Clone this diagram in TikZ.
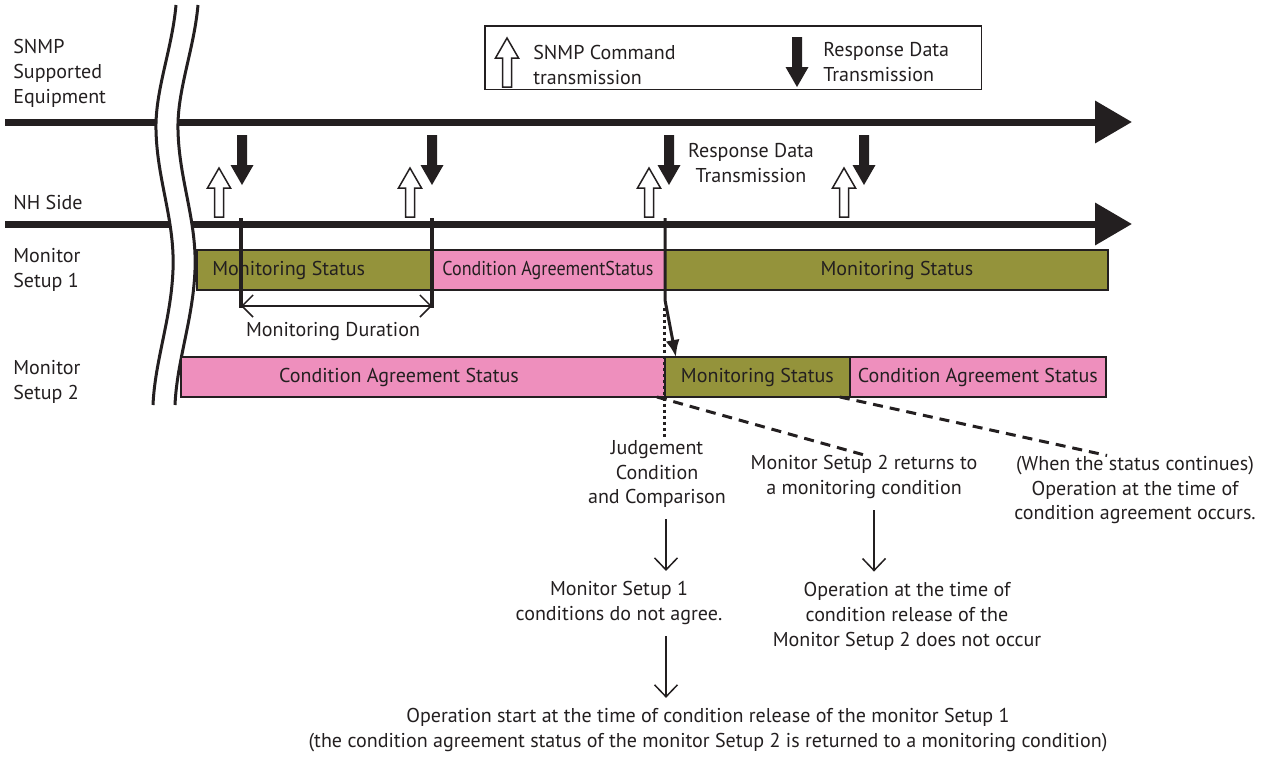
\documentclass[tikz,border=0pt]{standalone}
\usepackage{fontspec}
\setmainfont{PT Sans}
\newfontfamily\narrowsans[FakeStretch=0.9]{PT Sans}
\usepackage{tikz}
\usetikzlibrary{arrows.meta,positioning}
\definecolor{inkdark}{HTML}{231F20}
\definecolor{olivebar}{HTML}{94933B}
\definecolor{pinkbar}{HTML}{EE8FBD}
\tikzset{
  axisline/.style={line width=0.14cm, color=inkdark, -{Triangle[length=0.74cm,width=0.82cm]}},
  breakline/.style={line width=0.06cm, color=inkdark},
  statebar/.style={
    rectangle, draw=inkdark, line width=0.03cm, inner sep=0pt, outer sep=0pt,
    minimum height=0.8cm, anchor=north west,
    font=\fontsize{11.4}{14.2}\selectfont, text=inkdark
  },
  plaintext/.style={font=\fontsize{11.4}{14.2}\selectfont, text=inkdark, inner sep=0pt, align=center},
  legendbox/.style={rectangle, draw=inkdark, line width=0.03cm, inner sep=0pt},
  tickline/.style={line width=0.07cm, color=inkdark},
  durarrow/.style={line width=0.03cm, color=inkdark, {Straight Barb[length=0.22cm,width=0.44cm]}-{Straight Barb[length=0.22cm,width=0.44cm]}},
  flowarrow/.style={line width=0.03cm, color=inkdark, -{Straight Barb[length=0.24cm,width=0.46cm]}, shorten <=0.22cm, shorten >=0.2cm},
  dashline/.style={line width=0.06cm, color=inkdark, dash pattern=on 0.2cm off 0.14cm},
  dotline/.style={line width=0.06cm, color=inkdark, dash pattern=on 0.06cm off 0.06cm},
  cmdup/.pic={\draw[inkdark, line width=0.03cm, fill=white] (0,0) -- (11.5,20) -- (4.5,20) -- (4.5,49) -- (-4.5,49) -- (-4.5,20) -- (-11.5,20) -- cycle;},
  respdown/.pic={\fill[inkdark] (-5,0) -- (5,0) -- (5,30) -- (11.5,30) -- (0,50) -- (-11.5,30) -- (-5,30) -- cycle;},
}
\begin{document}
\begin{tikzpicture}[x=0.02cm, y=-0.02cm]
  \useasboundingbox (0,0) rectangle (1271,758);

  \coordinate (eqstart) at (5,122);
  \coordinate (eqend) at (1132,122);
  \coordinate (nhstart) at (5,224);
  \coordinate (nhend) at (1132,224);
  \draw[axisline] (eqstart) -- (eqend);
  \draw[axisline] (nhstart) -- (nhend);

  % break mark
  \fill[white] (176,5) .. controls (172,50) and (155,90) .. (156,130) .. controls (157,180) and (175,220) .. (173,270) .. controls (171,320) and (155,360) .. (153,405)
    -- (175,405) .. controls (177,360) and (193,320) .. (195,270) .. controls (197,220) and (179,180) .. (178,130) .. controls (177,90) and (194,50) .. (198,5) -- cycle;
  \draw[breakline] (176,5) .. controls (172,50) and (155,90) .. (156,130) .. controls (157,180) and (175,220) .. (173,270) .. controls (171,320) and (155,360) .. (153,405);
  \draw[breakline] (198,5) .. controls (194,50) and (177,90) .. (178,130) .. controls (179,180) and (197,220) .. (195,270) .. controls (193,320) and (177,360) .. (175,405);

  \node[plaintext, align=left, anchor=west] (snmplbl) at (13,73) {SNMP\\Supported\\Equipment};
  \node[plaintext, anchor=west] (nhlbl) at (13,202) {NH Side};
  \node[plaintext, align=left, anchor=west] (mon1lbl) at (13,270) {Monitor\\Setup 1};
  \node[plaintext, align=left, anchor=west] (mon2lbl) at (13,382) {Monitor\\Setup 2};

  \node[legendbox, minimum width=9.94cm, minimum height=1.28cm, anchor=north west] (legend) at (484,25) {};
  \pic at (507,38) {cmdup};
  \node[plaintext, align=left, anchor=west] (legcmd) at (533,65) {SNMP Command\\transmission};
  \pic at (797,37) {respdown};
  \node[plaintext, align=left, anchor=west] (legresp) at (823,62) {Response Data\\Transmission};

  \pic at (219,168) {cmdup};
  \pic at (242,135) {respdown};
  \pic at (410,168) {cmdup};
  \pic at (432,135) {respdown};
  \pic at (649,168) {cmdup};
  \pic at (669,135) {respdown};
  \pic at (844,168) {cmdup};
  \pic at (864,135) {respdown};
  \node[plaintext] (resplbl) at (751,163) {Response Data\\Transmission};

  \node[statebar, fill=olivebar, minimum width=4.68cm] (s1a) at (197,250) {};
  \node[statebar, fill=pinkbar, minimum width=4.68cm, right=0pt of s1a] (s1b) {\narrowsans Condition AgreementStatus};
  \node[statebar, fill=olivebar, minimum width=8.86cm, right=0pt of s1b] (s1c) {};
  \node[plaintext, right=0.3cm of s1a.west] (s1atext) {Monitoring Status};
  \node[plaintext] (s1ctext) at (897,270) {Monitoring Status};

  \node[statebar, fill=pinkbar, minimum width=9.68cm] (s2a) at (181,357) {};
  \node[statebar, fill=olivebar, minimum width=3.7cm, right=0pt of s2a] (s2b) {Monitoring Status};
  \node[statebar, fill=pinkbar, minimum width=5.12cm, right=0pt of s2b] (s2c) {Condition Agreement Status};
  \node[plaintext] (s2atext) at (399,377) {Condition Agreement Status};

  \coordinate (tickAtop) at (241,218);
  \coordinate (tickAbot) at (241,308);
  \coordinate (tickBtop) at (432,218);
  \coordinate (tickBbot) at (432,308);
  \coordinate (tickCtop) at (665,218);
  \coordinate (tickCmid) at (665,300);
  \draw[tickline] (tickAtop) -- (tickAbot);
  \draw[tickline] (tickBtop) -- (tickBbot);
  \draw[durarrow] ([yshift=0.04cm]tickAbot) -- ([yshift=0.04cm]tickBbot);
  \node[plaintext] (durlbl) at (333,332) {Monitoring Duration};
  \draw[line width=0.06cm, color=inkdark, -{Latex[length=0.34cm,width=0.28cm]}] (tickCtop) -- (tickCmid) -- ([xshift=0.22cm]s2b.north west);

  \node[plaintext] (judge) at (657,474) {Judgement\\Condition\\and Comparison};
  \node[plaintext] (returns) at (864,477) {Monitor Setup 2 returns to\\a monitoring condition};
  \node[plaintext] (whencont) at (1135,490) {(When the status continues)\\Operation at the time of\\condition agreement occurs.};
  \node[plaintext] (nsok) at (619,603) {Monitor Setup 1\\conditions do not agree.};
  \node[plaintext] (noop) at (907,616) {Operation at the time of\\condition release of the\\Monitor Setup 2 does not occur};
  \node[plaintext] (opstart) at (708,730) {Operation start at the time of condition release of the monitor Setup 1\\(the condition agreement status of the monitor Setup 2 is returned to a monitoring condition)};

  \draw[dotline] ([yshift=-0.36cm]s1b.south east) -- (judge.north -| s1b.south east);
  \draw[dashline] ([xshift=-0.16cm]s2a.south east) -- (returns.north);
  \draw[dashline] ([xshift=-0.2cm]s2b.south east) -- ([xshift=-0.56cm]whencont.north);

  \coordinate (colA) at (666,0);
  \coordinate (colB) at (874,0);
  \draw[flowarrow] (judge.south -| colA) -- (nsok.north -| colA);
  \draw[flowarrow] (nsok.south -| colA) -- (opstart.north -| colA);
  \draw[flowarrow] (returns.south -| colB) -- (noop.north -| colB);
\end{tikzpicture}
\end{document}
